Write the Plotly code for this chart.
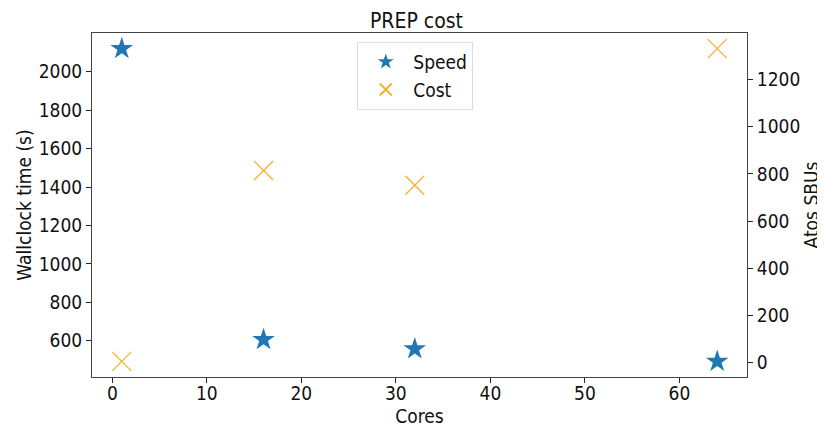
import plotly.graph_objects as go

cores = [1, 16, 32, 64]
speed = [2120, 606, 558, 493]
cost = [6, 815, 752, 1331]

x_ticks = [0, 10, 20, 30, 40, 50, 60]
y1_ticks = [600, 800, 1000, 1200, 1400, 1600, 1800, 2000]
y2_ticks = [0, 200, 400, 600, 800, 1000, 1200]

def pad(vals, f=0.05):
    lo, hi = min(vals), max(vals)
    s = hi - lo
    return [lo - f * s, hi + f * s]

FAM = "DejaVu Sans Condensed, DejaVu Sans"

fig = go.Figure()
fig.add_trace(go.Scatter(
    x=cores, y=speed, mode="markers", name="Speed",
    marker=dict(symbol="star", size=17, color="#1f77b4", line=dict(width=0)),
    yaxis="y"))
fig.add_trace(go.Scatter(
    x=cores, y=cost, mode="markers", name="Cost",
    marker=dict(symbol="x-thin", size=19, color="rgba(0,0,0,0)",
                line=dict(width=1.3, color="#f7b030")),
    yaxis="y2"))

font = dict(family=FAM, size=19, color="#111")
axis_common = dict(showgrid=False, zeroline=False, ticks="outside", ticklen=5,
                   tickwidth=1, tickcolor="#222", showline=True, linecolor="#444",
                   linewidth=1, tickfont=font, automargin=False)

fig.update_layout(
    width=817, height=419,
    paper_bgcolor="white", plot_bgcolor="white",
    margin=dict(l=84, r=78, t=25, b=50, autoexpand=False),
    title=dict(text="PREP cost", x=0.5, xanchor="center", y=0.971, yanchor="middle",
               font=dict(family=FAM, size=21, color="#111")),
    xaxis=dict(axis_common, range=pad(cores), tickvals=x_ticks, mirror=True,
               ticklabelstandoff=-6,
               title=dict(text="Cores", font=font, standoff=8)),
    yaxis=dict(axis_common, range=pad(speed), tickvals=y1_ticks,
               title=dict(text="Wallclock time (s)", font=font, standoff=2)),
    yaxis2=dict(axis_common, range=pad(cost), tickvals=y2_ticks, overlaying="y",
                side="right", title=dict(text="Atos SBUs", font=font, standoff=5)),
    legend=dict(x=0.405, y=0.974, xanchor="left", yanchor="top",
                bordercolor="#ddd", borderwidth=1, bgcolor="rgba(255,255,255,0.8)",
                font=dict(family=FAM, size=19, color="#111"),
                itemsizing="constant", tracegroupgap=0, itemwidth=45),
    showlegend=True,
)

fig.write_html("out.html")
